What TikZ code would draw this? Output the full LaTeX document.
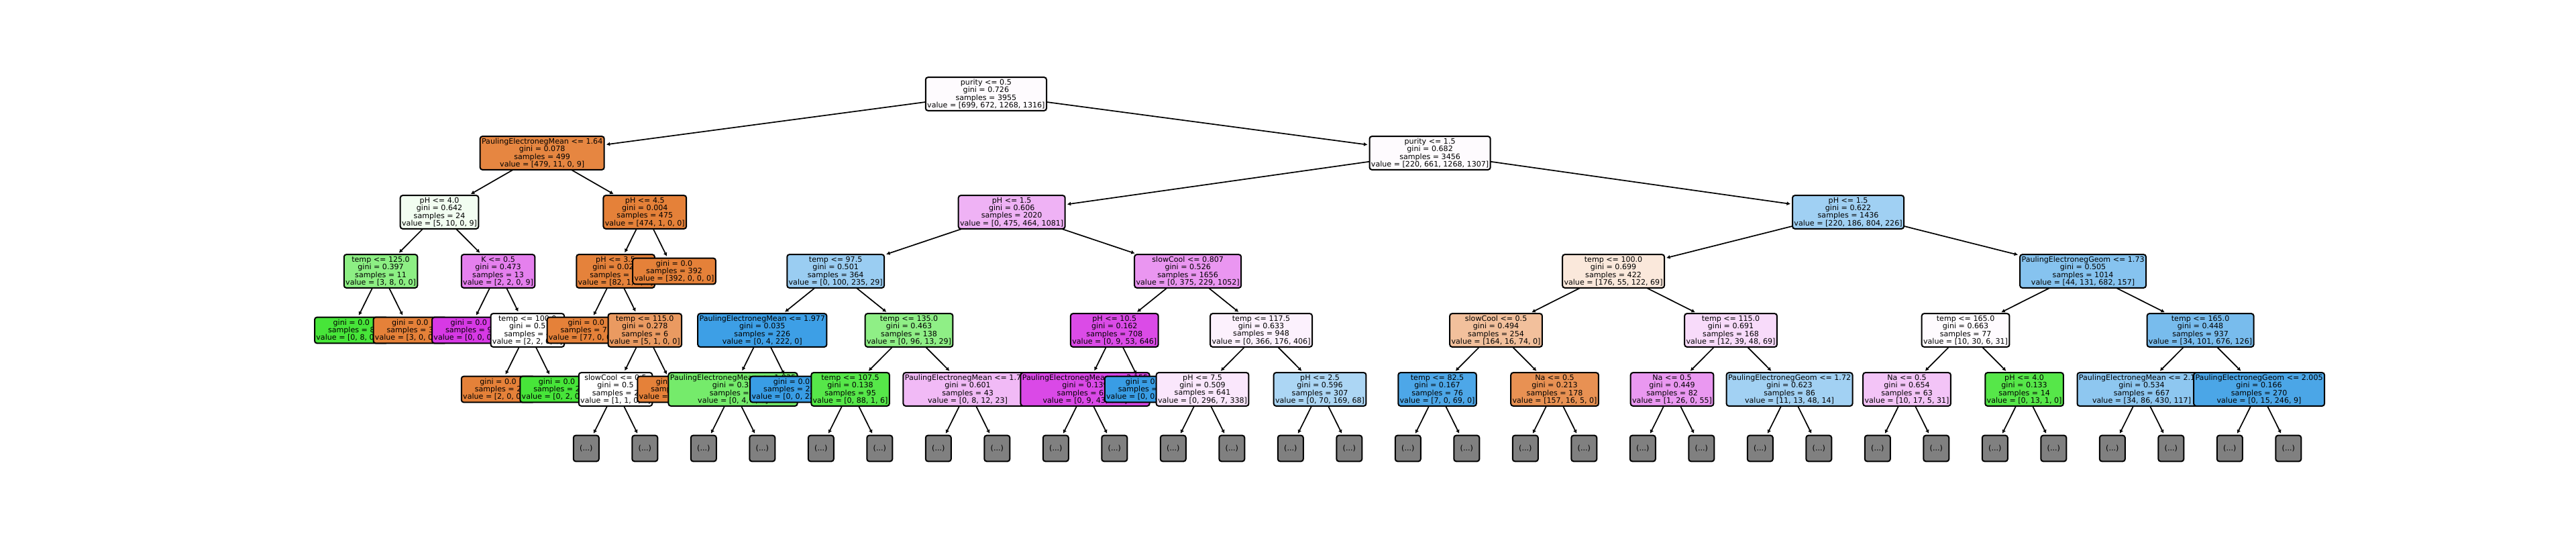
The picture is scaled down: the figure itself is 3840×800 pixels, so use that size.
\documentclass[tikz,border=0pt]{standalone}
\usepackage{fontspec}
\setmainfont{DejaVu Sans}
\usetikzlibrary{arrows.meta}
\definecolor{cA}{RGB}{229,129,57}
\definecolor{cB}{RGB}{71,229,57}
\definecolor{cC}{RGB}{57,157,229}
\definecolor{cD}{RGB}{215,57,229}
\definecolor{truncgray}{RGB}{128,128,128}
\pgfdeclarelayer{bg}
\pgfdeclarelayer{d6}
\pgfdeclarelayer{d5}
\pgfdeclarelayer{d4}
\pgfdeclarelayer{d3}
\pgfdeclarelayer{d2}
\pgfdeclarelayer{d1}
\pgfdeclarelayer{d0}
\pgfsetlayers{bg,d6,d5,d4,d3,d2,d1,d0,main}
\tikzset{
  tnode/.style={draw=black, line width=2pt, rounded corners=3.5pt, align=center,
    font=\fontsize{11.1}{11.3}\selectfont, inner xsep=2.4pt, inner ysep=0pt, text=black},
  splitbox/.style={tnode, minimum height=49.7pt},
  leafbox/.style={tnode, minimum height=38.7pt},
  truncbox/.style={tnode, fill=truncgray, minimum height=38.7pt, minimum width=38pt},
  conn/.style={line width=1.7pt, -{Latex[length=5.5pt,width=6pt]}, shorten >=2pt},
}
\begin{document}
\begin{tikzpicture}[x=1pt,y=-1pt]
\useasboundingbox (0,0) rectangle (3840,800);
\begin{pgfonlayer}{bg}
\fill[white] (0,0) rectangle (3840,800);
\end{pgfonlayer}

\begin{pgfonlayer}{d0}
\node[splitbox, fill=cD!2!white] (R0) at (1469.89,140) {purity <= 0.5\\gini = 0.726\\samples = 3955\\value = [699, 672, 1268, 1316]};
\end{pgfonlayer}

\begin{pgfonlayer}{d1}
\node[splitbox, fill=cA!96!white] (L) at (808.175,228) {PaulingElectronegMean <= 1.64\\gini = 0.078\\samples = 499\\value = [479, 11, 0, 9]};
\draw[conn] (R0.center) -- (L);
\node[splitbox, fill=cD!2!white] (R) at (2131.6,228) {purity <= 1.5\\gini = 0.682\\samples = 3456\\value = [220, 661, 1268, 1307]};
\draw[conn] (R0.center) -- (R);
\end{pgfonlayer}

\begin{pgfonlayer}{d2}
\node[splitbox, fill=cB!7!white] (LL) at (655.05,316) {pH <= 4.0\\gini = 0.642\\samples = 24\\value = [5, 10, 0, 9]};
\draw[conn] (L.center) -- (LL);
\node[splitbox, fill=cA] (LR) at (961.3,316) {pH <= 4.5\\gini = 0.004\\samples = 475\\value = [474, 1, 0, 0]};
\draw[conn] (L.center) -- (LR);
\node[splitbox, fill=cD!39!white] (RL) at (1508.175,316) {pH <= 1.5\\gini = 0.606\\samples = 2020\\value = [0, 475, 464, 1081]};
\draw[conn] (R.center) -- (RL);
\node[splitbox, fill=cC!48!white] (RR) at (2755.05,316) {pH <= 1.5\\gini = 0.622\\samples = 1436\\value = [220, 186, 804, 226]};
\draw[conn] (R.center) -- (RR);
\end{pgfonlayer}

\begin{pgfonlayer}{d3}
\node[splitbox, fill=cB!62!white] (LLL) at (567.55,404) {temp <= 125.0\\gini = 0.397\\samples = 11\\value = [3, 8, 0, 0]};
\draw[conn] (LL.center) -- (LLL);
\node[splitbox, fill=cD!64!white] (LLR) at (742.55,404) {K <= 0.5\\gini = 0.473\\samples = 13\\value = [2, 2, 0, 9]};
\draw[conn] (LL.center) -- (LLR);
\node[splitbox, fill=cA!99!white] (LRL) at (917.55,404) {pH <= 3.5\\gini = 0.024\\samples = 83\\value = [82, 1, 0, 0]};
\draw[conn] (LR.center) -- (LRL);
\node[leafbox, fill=cA] (LRR) at (1005.05,404) {gini = 0.0\\samples = 392\\value = [392, 0, 0, 0]};
\draw[conn] (LR.center) -- (LRR);
\node[splitbox, fill=cC!51!white] (RLL) at (1245.675,404) {temp <= 97.5\\gini = 0.501\\samples = 364\\value = [0, 100, 235, 29]};
\draw[conn] (RL.center) -- (RLL);
\node[splitbox, fill=cD!53!white] (RLR) at (1770.675,404) {slowCool <= 0.807\\gini = 0.526\\samples = 1656\\value = [0, 375, 229, 1052]};
\draw[conn] (RL.center) -- (RLR);
\node[splitbox, fill=cA!18!white] (RRL) at (2405.05,404) {temp <= 100.0\\gini = 0.699\\samples = 422\\value = [176, 55, 122, 69]};
\draw[conn] (RR.center) -- (RRL);
\node[splitbox, fill=cC!61!white] (RRR) at (3105.05,404) {PaulingElectronegGeom <= 1.73\\gini = 0.505\\samples = 1014\\value = [44, 131, 682, 157]};
\draw[conn] (RR.center) -- (RRR);
\end{pgfonlayer}

\begin{pgfonlayer}{d4}
\node[leafbox, fill=cB] (LLLL) at (523.8,492) {gini = 0.0\\samples = 8\\value = [0, 8, 0, 0]};
\draw[conn] (LLL.center) -- (LLLL);
\node[leafbox, fill=cA] (LLLR) at (611.3,492) {gini = 0.0\\samples = 3\\value = [3, 0, 0, 0]};
\draw[conn] (LLL.center) -- (LLLR);
\node[leafbox, fill=cD] (LLRL) at (698.8,492) {gini = 0.0\\samples = 9\\value = [0, 0, 0, 9]};
\draw[conn] (LLR.center) -- (LLRL);
\node[splitbox, fill=white] (LLRR) at (786.3,492) {temp <= 100.0\\gini = 0.5\\samples = 4\\value = [2, 2, 0, 0]};
\draw[conn] (LLR.center) -- (LLRR);
\node[leafbox, fill=cA] (LRLL) at (873.8,492) {gini = 0.0\\samples = 77\\value = [77, 0, 0, 0]};
\draw[conn] (LRL.center) -- (LRLL);
\node[splitbox, fill=cA!80!white] (LRLR) at (961.3,492) {temp <= 115.0\\gini = 0.278\\samples = 6\\value = [5, 1, 0, 0]};
\draw[conn] (LRL.center) -- (LRLR);
\node[splitbox, fill=cC!98!white] (RLLL) at (1136.3,492) {PaulingElectronegMean <= 1.977\\gini = 0.035\\samples = 226\\value = [0, 4, 222, 0]};
\draw[conn] (RLL.center) -- (RLLL);
\node[splitbox, fill=cB!61!white] (RLLR) at (1355.05,492) {temp <= 135.0\\gini = 0.463\\samples = 138\\value = [0, 96, 13, 29]};
\draw[conn] (RLL.center) -- (RLLR);
\node[splitbox, fill=cD!91!white] (RLRL) at (1661.3,492) {pH <= 10.5\\gini = 0.162\\samples = 708\\value = [0, 9, 53, 646]};
\draw[conn] (RLR.center) -- (RLRL);
\node[splitbox, fill=cD!7!white] (RLRR) at (1880.05,492) {temp <= 117.5\\gini = 0.633\\samples = 948\\value = [0, 366, 176, 406]};
\draw[conn] (RLR.center) -- (RLRR);
\node[splitbox, fill=cA!50!white] (RRLL) at (2230.05,492) {slowCool <= 0.5\\gini = 0.494\\samples = 254\\value = [164, 16, 74, 0]};
\draw[conn] (RRL.center) -- (RRLL);
\node[splitbox, fill=cD!18!white] (RRLR) at (2580.05,492) {temp <= 115.0\\gini = 0.691\\samples = 168\\value = [12, 39, 48, 69]};
\draw[conn] (RRL.center) -- (RRLR);
\node[splitbox, fill=cD!2!white] (RRRL) at (2930.05,492) {temp <= 165.0\\gini = 0.663\\samples = 77\\value = [10, 30, 6, 31]};
\draw[conn] (RRR.center) -- (RRRL);
\node[splitbox, fill=cC!68!white] (RRRR) at (3280.05,492) {temp <= 165.0\\gini = 0.448\\samples = 937\\value = [34, 101, 676, 126]};
\draw[conn] (RRR.center) -- (RRRR);
\end{pgfonlayer}

\begin{pgfonlayer}{d5}
\node[leafbox, fill=cA] (LLRRL) at (742.55,580) {gini = 0.0\\samples = 2\\value = [2, 0, 0, 0]};
\draw[conn] (LLRR.center) -- (LLRRL);
\node[leafbox, fill=cB] (LLRRR) at (830.05,580) {gini = 0.0\\samples = 2\\value = [0, 2, 0, 0]};
\draw[conn] (LLRR.center) -- (LLRRR);
\node[splitbox, fill=white] (LRLRL) at (917.55,580) {slowCool <= 0.5\\gini = 0.5\\samples = 2\\value = [1, 1, 0, 0]};
\draw[conn] (LRLR.center) -- (LRLRL);
\node[leafbox, fill=cA] (LRLRR) at (1005.05,580) {gini = 0.0\\samples = 4\\value = [4, 0, 0, 0]};
\draw[conn] (LRLR.center) -- (LRLRR);
\node[splitbox, fill=cB!75!white] (RLLLL) at (1092.55,580) {PaulingElectronegMean <= 1.935\\gini = 0.32\\samples = 5\\value = [0, 4, 1, 0]};
\draw[conn] (RLLL.center) -- (RLLLL);
\node[leafbox, fill=cC] (RLLLR) at (1180.05,580) {gini = 0.0\\samples = 221\\value = [0, 0, 221, 0]};
\draw[conn] (RLLL.center) -- (RLLLR);
\node[splitbox, fill=cB!92!white] (RLLRL) at (1267.55,580) {temp <= 107.5\\gini = 0.138\\samples = 95\\value = [0, 88, 1, 6]};
\draw[conn] (RLLR.center) -- (RLLRL);
\node[splitbox, fill=cD!35!white] (RLLRR) at (1442.55,580) {PaulingElectronegMean <= 1.785\\gini = 0.601\\samples = 43\\value = [0, 8, 12, 23]};
\draw[conn] (RLLR.center) -- (RLLRR);
\node[splitbox, fill=cD!92!white] (RLRLL) at (1617.55,580) {PaulingElectronegMean <= 2.155\\gini = 0.139\\samples = 698\\value = [0, 9, 43, 646]};
\draw[conn] (RLRL.center) -- (RLRLL);
\node[leafbox, fill=cC] (RLRLR) at (1705.05,580) {gini = 0.0\\samples = 10\\value = [0, 0, 10, 0]};
\draw[conn] (RLRL.center) -- (RLRLR);
\node[splitbox, fill=cD!12!white] (RLRRL) at (1792.55,580) {pH <= 7.5\\gini = 0.509\\samples = 641\\value = [0, 296, 7, 338]};
\draw[conn] (RLRR.center) -- (RLRRL);
\node[splitbox, fill=cC!42!white] (RLRRR) at (1967.55,580) {pH <= 2.5\\gini = 0.596\\samples = 307\\value = [0, 70, 169, 68]};
\draw[conn] (RLRR.center) -- (RLRRR);
\node[splitbox, fill=cC!90!white] (RRLLL) at (2142.55,580) {temp <= 82.5\\gini = 0.167\\samples = 76\\value = [7, 0, 69, 0]};
\draw[conn] (RRLL.center) -- (RRLLL);
\node[splitbox, fill=cA!87!white] (RRLLR) at (2317.55,580) {Na <= 0.5\\gini = 0.213\\samples = 178\\value = [157, 16, 5, 0]};
\draw[conn] (RRLL.center) -- (RRLLR);
\node[splitbox, fill=cD!52!white] (RRLRL) at (2492.55,580) {Na <= 0.5\\gini = 0.449\\samples = 82\\value = [1, 26, 0, 55]};
\draw[conn] (RRLR.center) -- (RRLRL);
\node[splitbox, fill=cC!47!white] (RRLRR) at (2667.55,580) {PaulingElectronegGeom <= 1.72\\gini = 0.623\\samples = 86\\value = [11, 13, 48, 14]};
\draw[conn] (RRLR.center) -- (RRLRR);
\node[splitbox, fill=cD!30!white] (RRRLL) at (2842.55,580) {Na <= 0.5\\gini = 0.654\\samples = 63\\value = [10, 17, 5, 31]};
\draw[conn] (RRRL.center) -- (RRRLL);
\node[splitbox, fill=cB!92!white] (RRRLR) at (3017.55,580) {pH <= 4.0\\gini = 0.133\\samples = 14\\value = [0, 13, 1, 0]};
\draw[conn] (RRRL.center) -- (RRRLR);
\node[splitbox, fill=cC!57!white] (RRRRL) at (3192.55,580) {PaulingElectronegMean <= 2.155\\gini = 0.534\\samples = 667\\value = [34, 86, 430, 117]};
\draw[conn] (RRRR.center) -- (RRRRL);
\node[splitbox, fill=cC!91!white] (RRRRR) at (3367.55,580) {PaulingElectronegGeom <= 2.005\\gini = 0.166\\samples = 270\\value = [0, 15, 246, 9]};
\draw[conn] (RRRR.center) -- (RRRRR);
\end{pgfonlayer}

\begin{pgfonlayer}{d6}
\foreach \k/\p in {4/LRLRL,5/LRLRL,6/RLLLL,7/RLLLL,8/RLLRL,9/RLLRL,10/RLLRR,11/RLLRR,
  12/RLRLL,13/RLRLL,14/RLRRL,15/RLRRL,16/RLRRR,17/RLRRR,18/RRLLL,19/RRLLL,
  20/RRLLR,21/RRLLR,22/RRLRL,23/RRLRL,24/RRLRR,25/RRLRR,26/RRRLL,27/RRRLL,
  28/RRRLR,29/RRRLR,30/RRRRL,31/RRRRL,32/RRRRR,33/RRRRR}{
  \node[truncbox] (T\k) at ({523.8+87.5*\k},668) {(...)};
  \draw[conn] (\p.center) -- (T\k);
}
\end{pgfonlayer}
\end{tikzpicture}
\end{document}
